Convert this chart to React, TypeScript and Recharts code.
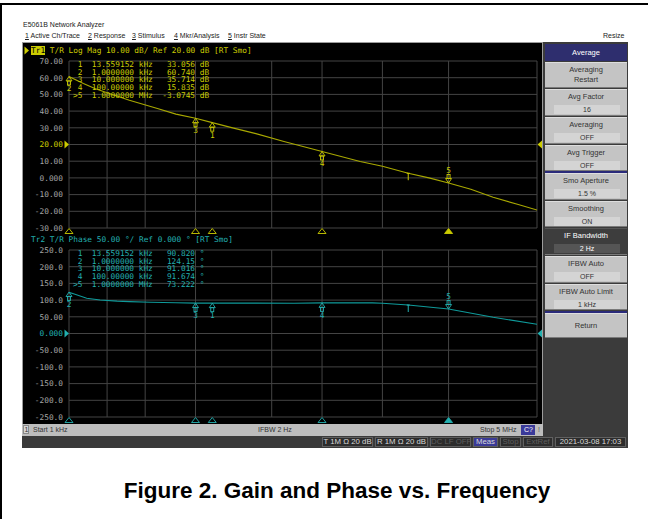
import React from 'react';
import { LineChart, Line, XAxis, YAxis, CartesianGrid, ReferenceDot } from 'recharts';

// ---------- data ----------
const gridFreqs = [
  1000, 2000, 3000, 4000, 5000, 6000, 7000, 8000, 9000,
  10000, 20000, 30000, 40000, 50000, 60000, 70000, 80000, 90000,
  100000, 200000, 300000, 400000, 500000, 600000, 700000, 800000, 900000,
  1000000, 2000000, 3000000, 4000000, 5000000,
];

const gainFreqs = [1000, 1300, 1600, 2000, 3000, 5000, 7000, 10000, 13559, 20000, 30000, 50000, 100000, 200000, 300000, 480000, 700000, 1000000, 1500000, 2250000, 3500000, 5000000];
const gainValues = [60.7, 56.5, 53.5, 51.0, 46.5, 41.5, 38.2, 35.7, 33.1, 29.8, 26.5, 21.8, 15.8, 9.8, 7.0, 2.8, 0.0, -3.07, -6.8, -11.6, -15.8, -19.2];

const phaseFreqs = [1000, 1100, 1380, 1760, 2400, 3000, 4400, 7000, 10000, 13559, 30000, 60000, 100000, 250000, 300000, 480000, 1000000, 2250000, 5000000];
const phaseValues = [123.3, 118, 105.3, 100.3, 97, 95.5, 93.4, 92, 91.0, 90.8, 91, 90.6, 91.7, 91.8, 90.5, 85.3, 73.2, 48.5, 27.5];

const markerIds = ['1', '2', '3', '4', '5'];
const markerFreqs = [13559.152, 1000, 10000, 100000, 1000000];
const markerFreqLabels = ['13.559152 kHz', '1.0000000 kHz', '10.000000 kHz', '100.00000 kHz', '1.0000000 MHz'];
const gainMarkerValues = [33.056, 60.74, 35.714, 15.835, -3.0745];
const gainMarkerLabels = ['33.056', '60.740', '35.714', '15.835', '-3.0745'];
const phaseMarkerValues = [90.82, 124.15, 91.016, 91.674, 73.222];
const phaseMarkerLabels = ['90.820', '124.15', '91.016', '91.674', '73.222'];
const activeMarker = '5';
const tickMarkFreq = 480000;

const gainTicks = [-30, -20, -10, 0, 10, 20, 30, 40, 50, 60, 70];
const gainTickLabels = ['-30.00', '-20.00', '-10.00', '0.000', '10.00', '20.00', '30.00', '40.00', '50.00', '60.00', '70.00'];
const phaseTicks = [-250, -200, -150, -100, -50, 0, 50, 100, 150, 200, 250];
const phaseTickLabels = ['-250.0', '-200.0', '-150.0', '-100.0', '-50.00', '0.000', '50.00', '100.0', '150.0', '200.0', '250.0'];

const menuItems = ['Active Ch/Trace', 'Response', 'Stimulus', 'Mkr/Analysis', 'Instr State'];

const softkeys = [
  { label: 'Averaging', value: 'Restart', top: 62, h: 27, two: true },
  { label: 'Avg Factor', value: '16', top: 89, h: 28 },
  { label: 'Averaging', value: 'OFF', top: 117, h: 28 },
  { label: 'Avg Trigger', value: 'OFF', top: 145, h: 27 },
  { label: 'Smo Aperture', value: '1.5 %', top: 173, h: 28 },
  { label: 'Smoothing', value: 'ON', top: 201, h: 27 },
  { label: 'IF Bandwidth', value: '2 Hz', top: 228, h: 28, sel: true },
  { label: 'IFBW Auto', value: 'OFF', top: 256, h: 28 },
  { label: 'IFBW Auto Limit', value: '1 kHz', top: 284, h: 27 },
  { label: 'Return', value: '', top: 313, h: 26, single: true },
];

const statusFields = [
  { text: 'T 1M \u03A9 20 dB', w: 51, dim: false },
  { text: 'R 1M \u03A9 20 dB', w: 53, dim: false },
  { text: 'DC LF OFF', w: 41, dim: true },
  { text: 'Meas', w: 25, dim: false, blue: true },
  { text: 'Stop', w: 21, dim: true },
  { text: 'ExtRef', w: 30, dim: true },
  { text: '2021-03-08 17:03', w: 71, dim: false },
];

// ---------- style ----------
const mono = '"DejaVu Sans Mono", "Liberation Mono", monospace';
const sans = '"Liberation Sans", Arial, sans-serif';
const YEL = '#cccc00';
const YEL_LINE = '#a8a800';
const CY = '#22b0b0';
const CY_LINE = '#0f9a9a';
const GRID = '#444444';

const gainData = gainFreqs.map((f, i) => ({ f, v: gainValues[i] }));
const phaseData = phaseFreqs.map((f, i) => ({ f, v: phaseValues[i] }));

const makeTick = (ticks: number[], labels: string[], refVal: number, refColor: string) => (props: any) => {
  const { x, y, payload } = props;
  const idx = ticks.indexOf(payload.value);
  return (
    <text x={x} y={y} dy={2.8} textAnchor="end" fontFamily={mono} fontSize={7.8}
      fill={payload.value === refVal ? refColor : '#a4a4a4'}>
      {labels[idx]}
    </text>
  );
};

const markerGlyph = (color: string, id: string) => (props: any) => {
  const { cx, cy } = props;
  if (cx == null || cy == null) return <g />;
  if (id === activeMarker) {
    return (
      <g>
        <path d={`M${cx},${cy} L${cx - 3},${cy - 4.5} L${cx + 3},${cy - 4.5} Z`} fill="none" stroke={color} strokeWidth={0.9} />
        <rect x={cx - 1.5} y={cy - 8.5} width={3} height={4} fill="none" stroke={color} strokeWidth={0.9} />
        <text x={cx} y={cy - 10} textAnchor="middle" fontFamily={mono} fontSize={7.8} fill={color}>{id}</text>
      </g>
    );
  }
  return (
    <g>
      <path d={`M${cx},${cy} L${cx - 3},${cy + 4.5} L${cx + 3},${cy + 4.5} Z`} fill="none" stroke={color} strokeWidth={0.9} />
      <rect x={cx - 1.5} y={cy + 4.5} width={3} height={4} fill="none" stroke={color} strokeWidth={0.9} />
      <text x={cx} y={cy + 15} textAnchor="middle" fontFamily={mono} fontSize={7.8} fill={color}>{id}</text>
    </g>
  );
};

const tickGlyph = (color: string) => (props: any) => {
  const { cx, cy } = props;
  if (cx == null || cy == null) return <g />;
  return (
    <g>
      <line x1={cx - 1.5} y1={cy} x2={cx + 1.5} y2={cy} stroke={color} strokeWidth={1} />
      <line x1={cx} y1={cy} x2={cx} y2={cy + 7} stroke={color} strokeWidth={1} />
    </g>
  );
};

const axisTriangle = (color: string, filled: boolean) => (props: any) => {
  const { cx, cy } = props;
  if (cx == null || cy == null) return <g />;
  return (
    <path d={`M${cx},${cy + 0.5} L${cx - 4},${cy + 5.5} L${cx + 4},${cy + 5.5} Z`}
      fill={filled ? color : 'none'} stroke={color} strokeWidth={0.9} />
  );
};

const leftArrow = (color: string) => (props: any) => {
  const { cx, cy } = props;
  if (cx == null || cy == null) return <g />;
  return <path d={`M${cx - 4.5},${cy - 4} L${cx},${cy} L${cx - 4.5},${cy + 4} Z`} fill={color} />;
};
const rightArrow = (color: string) => (props: any) => {
  const { cx, cy } = props;
  if (cx == null || cy == null) return <g />;
  return <path d={`M${cx + 5},${cy - 4} L${cx + 0.5},${cy} L${cx + 5},${cy + 4} Z`} fill={color} />;
};

function Trace(props: {
  data: { f: number; v: number }[];
  ticks: number[];
  labels: string[];
  refVal: number;
  color: string;
  lineColor: string;
  markerValues: number[];
  top: number;
}) {
  const { data, ticks, labels, refVal, color, lineColor, markerValues, top } = props;
  const dom: [number, number] = [ticks[0], ticks[ticks.length - 1]];
  const i = data.findIndex((d) => d.f === tickMarkFreq);
  const markVal = data[i].v;
  return (
    <div style={{ position: 'absolute', left: 23, top, width: 520, height: 191 }}>
      <LineChart width={520} height={191} data={data} margin={{ top: 17, right: 6, bottom: 7, left: 0 }}>
        <CartesianGrid stroke={GRID} strokeWidth={1} />
        <XAxis dataKey="f" type="number" scale="log" domain={[1000, 5000000]} ticks={gridFreqs} hide allowDataOverflow />
        <YAxis type="number" domain={dom} ticks={ticks} width={46} axisLine={false} tickLine={false}
          tickMargin={0} interval={0} tick={makeTick(ticks, labels, refVal, color)} allowDataOverflow />
        <Line dataKey="v" type="linear" stroke={lineColor} strokeWidth={1.1} dot={false} isAnimationActive={false} />
        {markerIds.map((id, k) => (
          <ReferenceDot key={'m' + id} x={markerFreqs[k]} y={markerValues[k]} r={3} ifOverflow="visible"
            shape={markerGlyph(color, id)} />
        ))}
        <ReferenceDot x={tickMarkFreq} y={markVal} r={2} ifOverflow="visible" shape={tickGlyph(color)} />
        {markerIds.map((id, k) => (
          <ReferenceDot key={'a' + id} x={markerFreqs[k]} y={dom[0]} r={3} ifOverflow="visible"
            shape={axisTriangle(color, id === activeMarker)} />
        ))}
        <ReferenceDot x={1000} y={refVal} r={3} ifOverflow="visible" shape={leftArrow(color)} />
        <ReferenceDot x={5000000} y={refVal} r={3} ifOverflow="visible" shape={rightArrow(color)} />
      </LineChart>
    </div>
  );
}

const tableRow = (i: number, values: string[], unit: string) =>
  `${markerIds[i] === activeMarker ? '>' : ' '}${markerIds[i]}  ${markerFreqLabels[i]} ${values[i].padStart(8)} ${unit}`;

export default function App() {
  const small: React.CSSProperties = { position: 'absolute', fontFamily: sans, fontSize: 7, color: '#222', whiteSpace: 'nowrap', lineHeight: '10px' };
  const menuX = [25, 88, 132, 174, 228];
  return (
    <div style={{ position: 'absolute', left: 0, top: 0, width: 648, height: 519, background: '#fff', overflow: 'hidden' }}>
      {/* outer frame */}
      <div style={{ position: 'absolute', left: 0, top: 3, width: 648, height: 2, background: '#000' }} />
      <div style={{ position: 'absolute', left: 0, top: 3, width: 2, height: 516, background: '#000' }} />

      {/* window title and menu */}
      <div style={{ ...small, left: 23, top: 20 }}>E5061B Network Analyzer</div>
      {menuItems.map((m, i) => (
        <div key={m} style={{ ...small, left: menuX[i], top: 31 }}>
          <span style={{ textDecoration: 'underline' }}>{i + 1}</span> {m}
        </div>
      ))}
      <div style={{ ...small, left: 603, top: 31 }}>Resize</div>

      {/* black chart area */}
      <div style={{ position: 'absolute', left: 22, top: 42, width: 521, height: 382, background: '#000', borderTop: '1px solid #9c9c9c', borderRight: '1px solid #9c9c9c', borderLeft: '1px solid #9c9c9c', boxSizing: 'border-box' }} />

      {/* Tr1 header */}
      <svg style={{ position: 'absolute', left: 24, top: 46 }} width={6} height={9}>
        <path d="M0.5,0.5 L5,4.5 L0.5,8.5 Z" fill={YEL} />
      </svg>
      <div style={{ position: 'absolute', left: 31, top: 46, width: 14, height: 9, background: YEL }} />
      <div style={{ position: 'absolute', left: 31, top: 45.5, fontFamily: mono, fontSize: 7.8, lineHeight: '10px', whiteSpace: 'pre', color: YEL }}>
        <span style={{ color: '#000' }}>Tr1</span>{' T/R Log Mag 10.00 dB/ Ref 20.00 dB [RT Smo]'}
      </div>
      {/* Tr2 header */}
      <div style={{ position: 'absolute', left: 31, top: 234.5, fontFamily: mono, fontSize: 7.8, lineHeight: '10px', whiteSpace: 'pre', color: CY }}>
        {'Tr2 T/R Phase 50.00 \u00B0/ Ref 0.000 \u00B0 [RT Smo]'}
      </div>

      <Trace data={gainData} ticks={gainTicks} labels={gainTickLabels} refVal={20} color={YEL} lineColor={YEL_LINE}
        markerValues={gainMarkerValues} top={44} />
      <Trace data={phaseData} ticks={phaseTicks} labels={phaseTickLabels} refVal={0} color={CY} lineColor={CY_LINE}
        markerValues={phaseMarkerValues} top={233} />

      {/* marker tables */}
      <div style={{ position: 'absolute', left: 73, top: 61, fontFamily: mono, fontSize: 7.8, lineHeight: '7.7px', whiteSpace: 'pre', color: YEL }}>
        {markerIds.map((id, i) => <div key={id}>{tableRow(i, gainMarkerLabels, 'dB')}</div>)}
      </div>
      <div style={{ position: 'absolute', left: 73, top: 250, fontFamily: mono, fontSize: 7.8, lineHeight: '7.7px', whiteSpace: 'pre', color: CY }}>
        {markerIds.map((id, i) => <div key={id}>{tableRow(i, phaseMarkerLabels, '\u00B0')}</div>)}
      </div>

      {/* status bar 1 */}
      <div style={{ position: 'absolute', left: 22, top: 424, width: 521, height: 12, background: '#bdbdbd' }} />
      <div style={{ position: 'absolute', left: 23, top: 425, width: 6, height: 9, border: '1px solid #8a8a8a', boxSizing: 'border-box', background: '#d6d6d6' }} />
      <div style={{ ...small, left: 24.5, top: 425, color: '#333' }}>1</div>
      <div style={{ ...small, left: 33, top: 425, color: '#333' }}>Start 1 kHz</div>
      <div style={{ ...small, left: 258, top: 425, color: '#333' }}>IFBW 2 Hz</div>
      <div style={{ ...small, left: 480, top: 425, color: '#333' }}>Stop 5 MHz</div>
      <div style={{ position: 'absolute', left: 521, top: 425, width: 14, height: 10, background: '#3a3a9a' }} />
      <div style={{ ...small, left: 524, top: 425, color: '#fff' }}>C?</div>
      <div style={{ ...small, left: 538, top: 425, color: '#555' }}>!</div>

      {/* softkey panel */}
      <div style={{ position: 'absolute', left: 543, top: 42, width: 85, height: 395, background: '#3b3b3b' }} />
      <div style={{ position: 'absolute', left: 545, top: 44, width: 82, height: 17, background: '#2e2e6e', color: '#fff', fontFamily: sans, fontSize: 7.5, lineHeight: '17px', textAlign: 'center' }}>Average</div>
      <div style={{ position: 'absolute', left: 545, top: 171, width: 82, height: 2, background: '#2a2a7a' }} />
      <div style={{ position: 'absolute', left: 545, top: 311, width: 82, height: 2, background: '#2a2a7a' }} />
      {softkeys.map((k) => (
        <div key={k.label + k.top} style={{ position: 'absolute', left: 545, top: k.top, width: 82, height: k.h - 1, background: k.sel ? '#3d3d3d' : '#c4c4c4', borderTop: `1px solid ${k.sel ? '#555' : '#dedede'}`, borderBottom: '1px solid #7a7a7a', boxSizing: 'border-box' }}>
          {k.two ? (
            <div style={{ fontFamily: sans, fontSize: 7.5, color: '#333', textAlign: 'center', lineHeight: '10px', marginTop: 2 }}>
              {k.label}<br />{k.value}
            </div>
          ) : k.single ? (
            <div style={{ fontFamily: sans, fontSize: 7.5, color: '#333', textAlign: 'center', lineHeight: `${k.h - 3}px` }}>{k.label}</div>
          ) : (
            <>
              <div style={{ fontFamily: sans, fontSize: 7.5, color: k.sel ? '#fff' : '#333', textAlign: 'center', lineHeight: '10px', marginTop: 2 }}>{k.label}</div>
              <div style={{ margin: '3px 7px 0 9px', height: 9, background: k.sel ? '#555' : '#d4d4d4', fontFamily: sans, fontSize: 7, color: k.sel ? '#fff' : '#333', textAlign: 'center', lineHeight: '9px' }}>{k.value}</div>
            </>
          )}
        </div>
      ))}

      {/* status bar 2 */}
      <div style={{ position: 'absolute', left: 22, top: 436, width: 606, height: 12, background: '#3a3a3a' }} />
      <div style={{ position: 'absolute', left: 322, top: 437, display: 'flex', gap: 2 }}>
        {statusFields.map((s) => (
          <div key={s.text} style={{ width: s.w, height: 10, boxSizing: 'border-box', border: '1px solid #606060', background: s.blue ? '#3a3a96' : '#2c2c2c', color: s.dim ? '#5e5e5e' : '#d8d8d8', fontFamily: sans, fontSize: 7.8, lineHeight: '8px', textAlign: 'center', whiteSpace: 'nowrap', overflow: 'hidden' }}>{s.text}</div>
        ))}
      </div>

      {/* caption */}
      <div style={{ position: 'absolute', left: 0, width: 648, top: 478, textAlign: 'center', fontFamily: sans, fontWeight: 'bold', fontSize: 22.5, color: '#000', paddingLeft: 26, boxSizing: 'border-box', whiteSpace: 'nowrap' }}>
        Figure 2. Gain and Phase vs. Frequency
      </div>
    </div>
  );
}
